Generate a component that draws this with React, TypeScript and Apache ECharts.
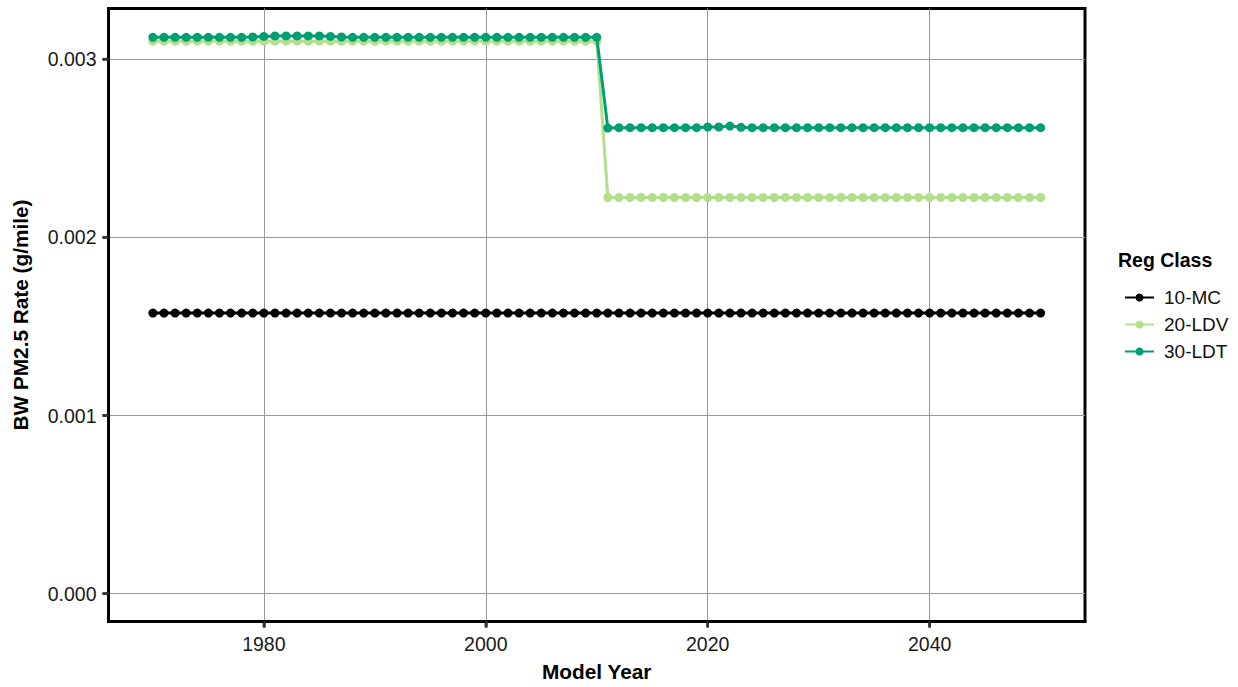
import React, { useEffect, useRef } from "react";
import * as echarts from "echarts";

const years = [
  1970, 1971, 1972, 1973, 1974, 1975, 1976, 1977, 1978, 1979,
  1980, 1981, 1982, 1983, 1984, 1985, 1986, 1987, 1988, 1989,
  1990, 1991, 1992, 1993, 1994, 1995, 1996, 1997, 1998, 1999,
  2000, 2001, 2002, 2003, 2004, 2005, 2006, 2007, 2008, 2009,
  2010, 2011, 2012, 2013, 2014, 2015, 2016, 2017, 2018, 2019,
  2020, 2021, 2022, 2023, 2024, 2025, 2026, 2027, 2028, 2029,
  2030, 2031, 2032, 2033, 2034, 2035, 2036, 2037, 2038, 2039,
  2040, 2041, 2042, 2043, 2044, 2045, 2046, 2047, 2048, 2049,
  2050,
];

const mc = [
  0.001575, 0.001575, 0.001575, 0.001575, 0.001575, 0.001575, 0.001575, 0.001575, 0.001575, 0.001575,
  0.001575, 0.001575, 0.001575, 0.001575, 0.001575, 0.001575, 0.001575, 0.001575, 0.001575, 0.001575,
  0.001575, 0.001575, 0.001575, 0.001575, 0.001575, 0.001575, 0.001575, 0.001575, 0.001575, 0.001575,
  0.001575, 0.001575, 0.001575, 0.001575, 0.001575, 0.001575, 0.001575, 0.001575, 0.001575, 0.001575,
  0.001575, 0.001575, 0.001575, 0.001575, 0.001575, 0.001575, 0.001575, 0.001575, 0.001575, 0.001575,
  0.001575, 0.001575, 0.001575, 0.001575, 0.001575, 0.001575, 0.001575, 0.001575, 0.001575, 0.001575,
  0.001575, 0.001575, 0.001575, 0.001575, 0.001575, 0.001575, 0.001575, 0.001575, 0.001575, 0.001575,
  0.001575, 0.001575, 0.001575, 0.001575, 0.001575, 0.001575, 0.001575, 0.001575, 0.001575, 0.001575,
  0.001575,
];

const ldv = [
  0.0031006, 0.0031006, 0.0031006, 0.0031006, 0.0031006, 0.0031006, 0.0031006, 0.0031006, 0.0031006, 0.0031006,
  0.0031006, 0.0031006, 0.0031006, 0.0031006, 0.0031006, 0.0031006, 0.0031006, 0.0031006, 0.0031006, 0.0031006,
  0.0031006, 0.0031006, 0.0031006, 0.0031006, 0.0031006, 0.0031006, 0.0031006, 0.0031006, 0.0031006, 0.0031006,
  0.0031006, 0.0031006, 0.0031006, 0.0031006, 0.0031006, 0.0031006, 0.0031006, 0.0031006, 0.0031006, 0.0031006,
  0.0031006, 0.0022235, 0.0022235, 0.0022235, 0.0022235, 0.0022235, 0.0022235, 0.0022235, 0.0022235, 0.0022235,
  0.0022235, 0.0022235, 0.0022235, 0.0022235, 0.0022235, 0.0022235, 0.0022235, 0.0022235, 0.0022235, 0.0022235,
  0.0022235, 0.0022235, 0.0022235, 0.0022235, 0.0022235, 0.0022235, 0.0022235, 0.0022235, 0.0022235, 0.0022235,
  0.0022235, 0.0022235, 0.0022235, 0.0022235, 0.0022235, 0.0022235, 0.0022235, 0.0022235, 0.0022235, 0.0022235,
  0.0022235,
];

const ldt = [
  0.003122, 0.003122, 0.003122, 0.003122, 0.003122, 0.003122, 0.003122, 0.003122, 0.003122, 0.003124,
  0.003127, 0.00313, 0.00313, 0.00313, 0.00313, 0.00313, 0.003127, 0.003124, 0.003122, 0.003122,
  0.003122, 0.003122, 0.003122, 0.003122, 0.003122, 0.003122, 0.003122, 0.003122, 0.003122, 0.003122,
  0.003122, 0.003122, 0.003122, 0.003122, 0.003122, 0.003122, 0.003122, 0.003122, 0.003122, 0.003122,
  0.003122, 0.002613, 0.002615, 0.002615, 0.002615, 0.002615, 0.002615, 0.002615, 0.002615, 0.002615,
  0.002619, 0.002619, 0.002624, 0.002617, 0.002615, 0.002615, 0.002615, 0.002615, 0.002615, 0.002615,
  0.002615, 0.002615, 0.002615, 0.002615, 0.002615, 0.002615, 0.002615, 0.002615, 0.002615, 0.002615,
  0.002615, 0.002615, 0.002615, 0.002615, 0.002615, 0.002615, 0.002615, 0.002615, 0.002615, 0.002615,
  0.002615,
];

const seriesNames = ["10-MC", "20-LDV", "30-LDT"];
const seriesColors = ["#000000", "#b2df8a", "#009e73"];
const xTicks = [1980, 2000, 2020, 2040];
const yTicks = [0, 0.001, 0.002, 0.003];
const X_MIN = 1966;
const X_MAX = 2054;
const Y_MIN = -0.000156;
const Y_MAX = 0.003284;

const FONT = "'Liberation Sans', Arial, sans-serif";

export default function App() {
  const ref = useRef<HTMLDivElement>(null);

  useEffect(() => {
    document.body.style.margin = "0";
    if (!ref.current) return;
    const chart = echarts.init(ref.current, undefined, { renderer: "svg" });
    const values = [mc, ldv, ldt];
    chart.setOption({
      animation: false,
      backgroundColor: "#ffffff",
      textStyle: { fontFamily: FONT },
      title: {
        text: "Reg Class",
        left: 1113,
        top: 245,
        textStyle: { fontFamily: FONT, fontSize: 19.5, fontWeight: "bold", color: "#000" },
      },
      legend: {
        orient: "vertical",
        left: 1119,
        top: 283,
        itemWidth: 29,
        itemHeight: 10,
        itemGap: 8,
        textStyle: { fontFamily: FONT, fontSize: 19, color: "#111", padding: [0, 0, 0, 5] },
        data: seriesNames,
      },
      grid: {
        left: 108.5,
        right: 153,
        top: 8.5,
        bottom: 65.5,
        show: true,
        borderColor: "#000",
        borderWidth: 3,
        backgroundColor: "transparent",
        containLabel: false,
      },
      xAxis: {
        type: "value",
        min: X_MIN,
        max: X_MAX,
        name: "Model Year",
        nameLocation: "middle",
        nameGap: 39,
        nameTextStyle: { fontFamily: FONT, fontSize: 20.8, fontWeight: "bold", color: "#000" },
        axisLine: { show: true, onZero: false, lineStyle: { color: "#000", width: 3 } },
        axisTick: { show: true, length: 6, lineStyle: { color: "#333333", width: 2.5 }, customValues: xTicks },
        axisLabel: {
          fontFamily: FONT,
          fontSize: 19.5,
          color: "#1a1a1a",
          margin: 12,
          customValues: xTicks,
          formatter: (v: number) => String(v),
        },
        splitLine: { show: true, lineStyle: { color: "#999999", width: 1 } },
      },
      yAxis: {
        type: "value",
        min: Y_MIN,
        max: Y_MAX,
        name: "BW PM2.5 Rate (g/mile)",
        nameLocation: "middle",
        nameRotate: 90,
        nameGap: 78,
        nameTextStyle: { fontFamily: FONT, fontSize: 20.8, fontWeight: "bold", color: "#000" },
        axisLine: { show: true, onZero: false, lineStyle: { color: "#000", width: 3 } },
        axisTick: { show: true, length: 6, lineStyle: { color: "#333333", width: 2.5 }, customValues: yTicks },
        axisLabel: {
          fontFamily: FONT,
          fontSize: 19.5,
          color: "#1a1a1a",
          margin: 12,
          customValues: yTicks,
          formatter: (v: number) => v.toFixed(3),
        },
        splitLine: { show: true, lineStyle: { color: "#999999", width: 1 } },
      },
      series: seriesNames.map((name, si) => ({
        name,
        type: "line",
        data: years.map((y, i) => [y, values[si][i]]),
        symbol: "circle",
        symbolSize: 9,
        showSymbol: true,
        lineStyle: { color: seriesColors[si], width: 3 },
        itemStyle: { color: seriesColors[si] },
        z: 2 + si,
      })),
    });

    // Tick marks placed through the library's own scales.
    const bottomY = chart.convertToPixel({ yAxisIndex: 0 }, Y_MIN) as number;
    const leftX = chart.convertToPixel({ xAxisIndex: 0 }, X_MIN) as number;
    const tickStyle = { stroke: "#333333", lineWidth: 2.5 };
    const tickEls: any[] = [];
    xTicks.forEach((v) => {
      const px = chart.convertToPixel({ xAxisIndex: 0 }, v) as number;
      tickEls.push({
        type: "line",
        shape: { x1: px, y1: bottomY + 1.5, x2: px, y2: bottomY + 6 },
        style: tickStyle,
        z: 10,
      });
    });
    yTicks.forEach((v) => {
      const py = chart.convertToPixel({ yAxisIndex: 0 }, v) as number;
      tickEls.push({
        type: "line",
        shape: { x1: leftX - 1.5, y1: py, x2: leftX - 6, y2: py },
        style: tickStyle,
        z: 10,
      });
    });
    chart.setOption({ graphic: tickEls });

    return () => chart.dispose();
  }, []);

  return <div ref={ref} style={{ width: 1238, height: 687 }} />;
}
